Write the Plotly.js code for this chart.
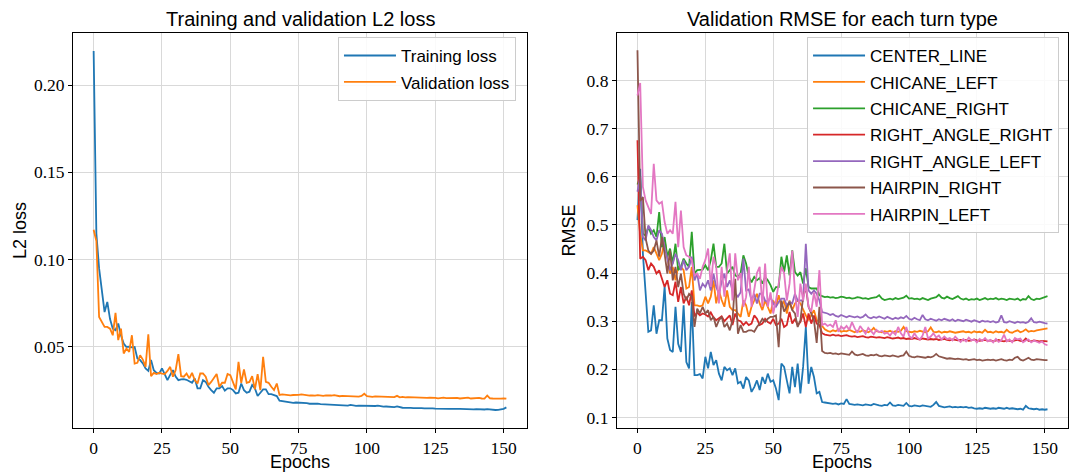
<!DOCTYPE html>
<html>
<head>
<meta charset="utf-8">
<script src="https://cdn.plot.ly/plotly-3.0.1.min.js"></script>
<style>
  html, body { margin: 0; padding: 0; background: #fff; }
  #chart { width: 1069px; height: 472px; }
</style>
</head>
<body>
<div id="chart"></div>
<script>
// Epoch index 0..151
const epochs = Array.from({ length: 152 }, (_, i) => i);

const epochTicks = [0, 25, 50, 75, 100, 125, 150];
const lossTicks = [0.05, 0.10, 0.15, 0.20];
const rmseTicks = [0.1, 0.2, 0.3, 0.4, 0.5, 0.6, 0.7, 0.8];

// L2 loss per epoch
const trainLoss = [
  0.2195, 0.115, 0.095, 0.083, 0.070, 0.0758, 0.066, 0.0605, 0.0596, 0.0634,
  0.0567, 0.052, 0.050, 0.0502, 0.0498, 0.050, 0.0434, 0.0425, 0.0406, 0.0377,
  0.0363, 0.0425, 0.0367, 0.0352, 0.0348, 0.0377, 0.0339, 0.031, 0.034, 0.0367,
  0.033, 0.031, 0.0314, 0.0316, 0.0312, 0.0305, 0.0295, 0.032, 0.0263, 0.0263,
  0.031, 0.030, 0.0272, 0.0253, 0.0238, 0.0263, 0.0263, 0.0276, 0.025, 0.0263,
  0.0263, 0.0253, 0.0234, 0.0238, 0.0291, 0.0253, 0.0238, 0.0244, 0.0282, 0.0263,
  0.0219, 0.0238, 0.0257, 0.0257, 0.023, 0.023, 0.0225, 0.0219, 0.0192, 0.0190,
  0.0186, 0.0183, 0.0181, 0.0180, 0.0182, 0.0181, 0.0183, 0.0182, 0.0178, 0.0175,
  0.0176, 0.0174, 0.0175, 0.0173, 0.0172, 0.0170, 0.0169, 0.0170, 0.0168, 0.0166,
  0.0166, 0.0165, 0.0167, 0.0164, 0.0168, 0.0165, 0.0163, 0.0164, 0.0163, 0.0165,
  0.0163, 0.0161, 0.0160, 0.0162, 0.0164, 0.0159, 0.0158, 0.0159, 0.0157, 0.0158,
  0.0156, 0.0160, 0.0155, 0.0152, 0.0151, 0.0153, 0.0151, 0.0150, 0.0151, 0.0149,
  0.0150, 0.0148, 0.0149, 0.0147, 0.0148, 0.0147, 0.0146, 0.0145, 0.0146, 0.0144,
  0.0145, 0.0146, 0.0144, 0.0145, 0.0146, 0.0145, 0.0143, 0.0145, 0.0144, 0.0143,
  0.0144, 0.0142, 0.0143, 0.0142, 0.0144, 0.0141, 0.0140, 0.0139, 0.0140, 0.0141,
  0.0146, 0.0154
];

const valLoss = [
  0.1171, 0.1107, 0.0672, 0.0644, 0.0615, 0.0615, 0.0605, 0.0567, 0.0695, 0.0539,
  0.0605, 0.0463, 0.0491, 0.0472, 0.0567, 0.0405, 0.0409, 0.0453, 0.0428, 0.0386,
  0.0573, 0.0333, 0.0352, 0.0345, 0.0352, 0.0348, 0.0345, 0.0363, 0.0386, 0.033,
  0.0367, 0.0459, 0.0333, 0.033, 0.0348, 0.032, 0.0352, 0.031, 0.0291, 0.0348,
  0.0348, 0.033, 0.0282, 0.030, 0.0324, 0.0345, 0.0272, 0.0295, 0.0295, 0.0345,
  0.0339, 0.030, 0.0257, 0.0415, 0.0295, 0.0371, 0.0295, 0.030, 0.0333, 0.0257,
  0.0345, 0.0253, 0.0444, 0.030, 0.0295, 0.0272, 0.0253, 0.0291, 0.0225, 0.0228,
  0.0226, 0.0224, 0.0223, 0.0225, 0.0224, 0.0226, 0.0228, 0.0225, 0.0224, 0.0222,
  0.0223, 0.0221, 0.0224, 0.0222, 0.0220, 0.0223, 0.0221, 0.0222, 0.0224, 0.0219,
  0.0218, 0.0220, 0.0219, 0.0221, 0.0218, 0.0217, 0.0219, 0.0216, 0.0220, 0.0232,
  0.0218, 0.0215, 0.0214, 0.0217, 0.0216, 0.0218, 0.0214, 0.0213, 0.0215, 0.0214,
  0.0213, 0.0220, 0.0212, 0.0214, 0.0211, 0.0213, 0.0212, 0.0211, 0.0214, 0.0210,
  0.0211, 0.0209, 0.0208, 0.0210, 0.0207, 0.0208, 0.0206, 0.0209, 0.0210, 0.0207,
  0.0208, 0.0206, 0.0207, 0.0209, 0.0205, 0.0207, 0.0206, 0.0210, 0.0205, 0.0207,
  0.0206, 0.0208, 0.0205, 0.0204, 0.0222, 0.0206, 0.0205, 0.0204, 0.0205, 0.0204,
  0.0206, 0.0204
];

// Validation RMSE per turn type
const centerLine = [
  0.510, 0.617, 0.440, 0.360, 0.278, 0.281, 0.333, 0.274, 0.302, 0.302,
  0.372, 0.264, 0.240, 0.236, 0.330, 0.253, 0.236, 0.333, 0.215, 0.202,
  0.340, 0.188, 0.188, 0.190, 0.181, 0.226, 0.202, 0.236, 0.209, 0.219,
  0.191, 0.177, 0.205, 0.198, 0.202, 0.188, 0.202, 0.171, 0.174, 0.160,
  0.184, 0.177, 0.153, 0.163, 0.177, 0.157, 0.184, 0.170, 0.191, 0.174,
  0.177, 0.160, 0.136, 0.212, 0.205, 0.177, 0.150, 0.205, 0.163, 0.212,
  0.150, 0.205, 0.288, 0.170, 0.205, 0.184, 0.150, 0.153, 0.132, 0.131,
  0.130, 0.129, 0.128, 0.129, 0.127, 0.129, 0.128, 0.138, 0.128, 0.127,
  0.126, 0.127, 0.126, 0.125, 0.127, 0.126, 0.125, 0.128, 0.126, 0.125,
  0.124, 0.126, 0.125, 0.131, 0.125, 0.124, 0.126, 0.125, 0.124, 0.130,
  0.124, 0.123, 0.125, 0.124, 0.123, 0.125, 0.124, 0.123, 0.122, 0.126,
  0.132, 0.124, 0.122, 0.121, 0.122, 0.123, 0.121, 0.122, 0.121, 0.122,
  0.121, 0.122, 0.120, 0.121, 0.119, 0.118, 0.119, 0.118, 0.120, 0.119,
  0.118, 0.119, 0.118, 0.120, 0.119, 0.118, 0.120, 0.118, 0.119, 0.118,
  0.117, 0.118, 0.116, 0.124, 0.119, 0.118, 0.117, 0.118, 0.116, 0.117,
  0.116, 0.117
];

const chicaneLeft = [
  0.541, 0.480, 0.447, 0.447, 0.444, 0.440, 0.454, 0.440, 0.427, 0.440,
  0.468, 0.434, 0.399, 0.413, 0.385, 0.413, 0.413, 0.406, 0.368, 0.371,
  0.413, 0.333, 0.333, 0.331, 0.333, 0.351, 0.337, 0.351, 0.385, 0.337,
  0.364, 0.344, 0.330, 0.364, 0.330, 0.323, 0.323, 0.316, 0.309, 0.343,
  0.333, 0.309, 0.330, 0.343, 0.357, 0.337, 0.323, 0.343, 0.330, 0.316,
  0.343, 0.330, 0.354, 0.330, 0.343, 0.316, 0.343, 0.323, 0.337, 0.343,
  0.337, 0.323, 0.312, 0.302, 0.312, 0.323, 0.302, 0.299, 0.290, 0.283,
  0.280, 0.278, 0.281, 0.279, 0.283, 0.278, 0.280, 0.279, 0.282, 0.279,
  0.277, 0.280, 0.278, 0.281, 0.279, 0.277, 0.280, 0.286, 0.279, 0.278,
  0.277, 0.279, 0.278, 0.280, 0.277, 0.279, 0.278, 0.280, 0.288, 0.279,
  0.278, 0.277, 0.279, 0.278, 0.280, 0.278, 0.277, 0.279, 0.287, 0.278,
  0.277, 0.279, 0.276, 0.278, 0.277, 0.279, 0.278, 0.276, 0.277, 0.278,
  0.279, 0.277, 0.278, 0.276, 0.279, 0.277, 0.278, 0.276, 0.282, 0.277,
  0.278, 0.276, 0.279, 0.277, 0.278, 0.276, 0.282, 0.277, 0.276, 0.279,
  0.281, 0.277, 0.279, 0.283, 0.278, 0.280, 0.279, 0.281, 0.282, 0.283,
  0.284, 0.285
];

const chicaneRight = [
  0.584, 0.600, 0.482, 0.478, 0.496, 0.482, 0.489, 0.475, 0.527, 0.454,
  0.475, 0.434, 0.451, 0.420, 0.461, 0.406, 0.413, 0.430, 0.420, 0.413,
  0.486, 0.399, 0.406, 0.406, 0.407, 0.416, 0.406, 0.427, 0.461, 0.413,
  0.413, 0.420, 0.461, 0.399, 0.406, 0.413, 0.395, 0.392, 0.400, 0.437,
  0.420, 0.392, 0.381, 0.392, 0.385, 0.390, 0.378, 0.392, 0.385, 0.375,
  0.361, 0.371, 0.371, 0.434, 0.402, 0.437, 0.395, 0.447, 0.402, 0.395,
  0.402, 0.378, 0.410, 0.371, 0.368, 0.368, 0.368, 0.354, 0.352, 0.350,
  0.351, 0.349, 0.350, 0.348, 0.349, 0.351, 0.350, 0.348, 0.349, 0.347,
  0.348, 0.350, 0.349, 0.347, 0.348, 0.346, 0.348, 0.349, 0.350, 0.354,
  0.347, 0.344, 0.346, 0.347, 0.345, 0.348, 0.346, 0.347, 0.349, 0.353,
  0.347, 0.348, 0.346, 0.347, 0.345, 0.348, 0.346, 0.344, 0.347, 0.348,
  0.350, 0.355, 0.349, 0.347, 0.351, 0.348, 0.346, 0.349, 0.352, 0.347,
  0.345, 0.347, 0.344, 0.346, 0.345, 0.347, 0.344, 0.346, 0.348, 0.345,
  0.347, 0.346, 0.348, 0.345, 0.347, 0.346, 0.344, 0.347, 0.346, 0.345,
  0.347, 0.343, 0.346, 0.345, 0.352, 0.346, 0.344, 0.347, 0.346, 0.348,
  0.349, 0.352
];

const rightAngleRight = [
  0.676, 0.430, 0.434, 0.427, 0.406, 0.420, 0.413, 0.399, 0.406, 0.388,
  0.371, 0.385, 0.357, 0.354, 0.382, 0.340, 0.371, 0.337, 0.351, 0.333,
  0.364, 0.310, 0.318, 0.312, 0.316, 0.314, 0.310, 0.318, 0.308, 0.302,
  0.306, 0.310, 0.300, 0.306, 0.312, 0.292, 0.316, 0.302, 0.300, 0.292,
  0.298, 0.292, 0.295, 0.312, 0.305, 0.292, 0.295, 0.305, 0.298, 0.295,
  0.305, 0.292, 0.295, 0.305, 0.288, 0.292, 0.319, 0.295, 0.305, 0.292,
  0.298, 0.316, 0.288, 0.316, 0.295, 0.312, 0.295, 0.292, 0.275, 0.272,
  0.271, 0.270, 0.272, 0.270, 0.271, 0.269, 0.270, 0.271, 0.269, 0.268,
  0.269, 0.267, 0.268, 0.269, 0.267, 0.266, 0.268, 0.267, 0.266, 0.267,
  0.266, 0.265, 0.267, 0.266, 0.264, 0.265, 0.266, 0.264, 0.265, 0.263,
  0.264, 0.263, 0.265, 0.263, 0.262, 0.264, 0.263, 0.262, 0.263, 0.262,
  0.263, 0.261, 0.262, 0.263, 0.261, 0.260, 0.262, 0.261, 0.260, 0.261,
  0.260, 0.261, 0.259, 0.260, 0.262, 0.260, 0.259, 0.260, 0.261, 0.259,
  0.260, 0.258, 0.259, 0.261, 0.259, 0.258, 0.260, 0.259, 0.258, 0.260,
  0.261, 0.259, 0.258, 0.264, 0.259, 0.258, 0.260, 0.259, 0.258, 0.259,
  0.258, 0.258
];

const rightAngleLeft = [
  0.569, 0.600, 0.475, 0.468, 0.499, 0.489, 0.475, 0.468, 0.489, 0.482,
  0.454, 0.427, 0.406, 0.420, 0.440, 0.427, 0.406, 0.427, 0.406, 0.413,
  0.434, 0.385, 0.399, 0.364, 0.378, 0.371, 0.385, 0.364, 0.399, 0.371,
  0.357, 0.382, 0.399, 0.371, 0.385, 0.364, 0.357, 0.351, 0.360, 0.430,
  0.364, 0.366, 0.343, 0.357, 0.337, 0.357, 0.357, 0.343, 0.340, 0.350,
  0.337, 0.330, 0.340, 0.347, 0.347, 0.333, 0.340, 0.337, 0.357, 0.343,
  0.343, 0.343, 0.461, 0.364, 0.357, 0.364, 0.357, 0.343, 0.319, 0.318,
  0.316, 0.313, 0.315, 0.311, 0.309, 0.313, 0.310, 0.308, 0.311, 0.309,
  0.308, 0.310, 0.307, 0.309, 0.314, 0.308, 0.306, 0.309, 0.307, 0.310,
  0.308, 0.305, 0.309, 0.306, 0.304, 0.307, 0.305, 0.308, 0.306, 0.311,
  0.305, 0.303, 0.307, 0.304, 0.302, 0.313, 0.304, 0.302, 0.305, 0.303,
  0.301, 0.304, 0.302, 0.305, 0.303, 0.301, 0.304, 0.300, 0.303, 0.301,
  0.300, 0.303, 0.301, 0.299, 0.302, 0.300, 0.298, 0.301, 0.299, 0.300,
  0.298, 0.300, 0.297, 0.299, 0.312, 0.298, 0.297, 0.300, 0.298, 0.296,
  0.299, 0.297, 0.298, 0.296, 0.299, 0.306, 0.298, 0.297, 0.299, 0.297,
  0.296, 0.295
];

const hairpinRight = [
  0.863, 0.550, 0.558, 0.472, 0.447, 0.440, 0.447, 0.468, 0.434, 0.475,
  0.440, 0.399, 0.447, 0.385, 0.413, 0.371, 0.399, 0.357, 0.344, 0.357,
  0.351, 0.288, 0.326, 0.316, 0.330, 0.316, 0.323, 0.302, 0.309, 0.288,
  0.302, 0.309, 0.288, 0.295, 0.281, 0.302, 0.388, 0.274, 0.292, 0.278,
  0.278, 0.281, 0.281, 0.278, 0.288, 0.295, 0.305, 0.299, 0.305, 0.309,
  0.309, 0.312, 0.246, 0.343, 0.320, 0.330, 0.340, 0.323, 0.316, 0.288,
  0.302, 0.350, 0.371, 0.330, 0.316, 0.302, 0.255, 0.330, 0.238, 0.234,
  0.233, 0.234, 0.232, 0.233, 0.231, 0.233, 0.232, 0.231, 0.230, 0.237,
  0.231, 0.229, 0.230, 0.232, 0.229, 0.228, 0.230, 0.229, 0.231, 0.228,
  0.227, 0.229, 0.228, 0.227, 0.229, 0.227, 0.226, 0.228, 0.229, 0.237,
  0.228, 0.226, 0.225, 0.227, 0.226, 0.225, 0.224, 0.226, 0.225, 0.227,
  0.232, 0.227, 0.225, 0.224, 0.222, 0.223, 0.222, 0.221, 0.222, 0.221,
  0.220, 0.221, 0.219, 0.220, 0.221, 0.219, 0.220, 0.218, 0.219, 0.220,
  0.219, 0.220, 0.218, 0.219, 0.221, 0.219, 0.218, 0.220, 0.219, 0.224,
  0.226, 0.220, 0.218, 0.221, 0.224, 0.220, 0.219, 0.221, 0.220, 0.219,
  0.219, 0.219
];

const hairpinLeft = [
  0.769, 0.795, 0.579, 0.551, 0.537, 0.523, 0.627, 0.551, 0.544, 0.548,
  0.506, 0.482, 0.489, 0.482, 0.548, 0.454, 0.530, 0.454, 0.437, 0.434,
  0.427, 0.395, 0.399, 0.388, 0.413, 0.427, 0.451, 0.371, 0.434, 0.413,
  0.337, 0.413, 0.351, 0.406, 0.441, 0.343, 0.441, 0.385, 0.400, 0.330,
  0.350, 0.413, 0.330, 0.370, 0.400, 0.413, 0.330, 0.420, 0.330, 0.360,
  0.316, 0.343, 0.378, 0.413, 0.400, 0.343, 0.378, 0.447, 0.360, 0.309,
  0.378, 0.343, 0.378, 0.330, 0.320, 0.360, 0.330, 0.406, 0.292, 0.295,
  0.290, 0.293, 0.288, 0.302, 0.278, 0.289, 0.284, 0.290, 0.282, 0.298,
  0.285, 0.276, 0.290, 0.283, 0.274, 0.286, 0.279, 0.273, 0.282, 0.277,
  0.280, 0.274, 0.276, 0.270, 0.278, 0.272, 0.288, 0.275, 0.268, 0.288,
  0.270, 0.264, 0.275, 0.266, 0.262, 0.270, 0.288, 0.264, 0.268, 0.275,
  0.266, 0.270, 0.262, 0.268, 0.263, 0.265, 0.260, 0.268, 0.262, 0.257,
  0.263, 0.258, 0.266, 0.260, 0.262, 0.256, 0.263, 0.259, 0.265, 0.258,
  0.261, 0.256, 0.263, 0.257, 0.260, 0.272, 0.258, 0.262, 0.256, 0.265,
  0.262, 0.264, 0.256, 0.260, 0.262, 0.256, 0.260, 0.258, 0.255, 0.258,
  0.252, 0.250
];

const sans = '"Liberation Sans", Arial, sans-serif';
const serif = '"Liberation Serif", "Times New Roman", serif';

const lossSeries = [
  { name: 'Training loss', y: trainLoss, color: '#1f77b4' },
  { name: 'Validation loss', y: valLoss, color: '#ff7f0e' }
];

const rmseSeries = [
  { name: 'CENTER_LINE', y: centerLine, color: '#1f77b4' },
  { name: 'CHICANE_LEFT', y: chicaneLeft, color: '#ff7f0e' },
  { name: 'CHICANE_RIGHT', y: chicaneRight, color: '#2ca02c' },
  { name: 'RIGHT_ANGLE_RIGHT', y: rightAngleRight, color: '#d62728' },
  { name: 'RIGHT_ANGLE_LEFT', y: rightAngleLeft, color: '#9467bd' },
  { name: 'HAIRPIN_RIGHT', y: hairpinRight, color: '#8c564b' },
  { name: 'HAIRPIN_LEFT', y: hairpinLeft, color: '#e377c2' }
];

const traces = [];
lossSeries.forEach(s => traces.push({
  type: 'scatter', mode: 'lines', x: epochs, y: s.y, name: s.name,
  legendgroup: s.name,
  line: { color: s.color, width: 1.8 }, xaxis: 'x', yaxis: 'y', legend: 'legend'
}));
rmseSeries.forEach(s => traces.push({
  type: 'scatter', mode: 'lines', x: epochs, y: s.y, name: s.name,
  legendgroup: s.name,
  line: { color: s.color, width: 1.8 }, xaxis: 'x2', yaxis: 'y2', legend: 'legend2'
}));

const axisBase = {
  showline: true, linecolor: '#000', linewidth: 1, mirror: true,
  ticks: 'outside', ticklen: 4, tickwidth: 1, tickcolor: '#000',
  showgrid: true, gridcolor: '#d9d9d9', gridwidth: 1, zeroline: false,
  tickfont: { family: serif, size: 17.5, color: '#000' },
  automargin: false
};

const legendBase = {
  xanchor: 'right', yanchor: 'top',
  bgcolor: 'rgba(255,255,255,0.85)', bordercolor: '#cccccc', borderwidth: 1,
  font: { family: sans, size: 17, color: '#000' },
  itemwidth: 52, tracegroupgap: 1.3
};

const titleFont = { family: sans, size: 20, color: '#000' };
const labelFont = { family: sans, size: 18, color: '#000' };

// Subplot titles and x-axis labels placed against each axis box
function boxLabel(text, xr, yr, y, anchor, shift, font) {
  return {
    text: text, showarrow: false, xref: xr, yref: yr, x: 0.5, y: y,
    xanchor: 'center', yanchor: anchor, yshift: shift, font: font, borderpad: 0
  };
}

const layout = {
  width: 1069, height: 472,
  margin: { l: 73, r: 1, t: 33, b: 44 },
  paper_bgcolor: '#fff', plot_bgcolor: '#fff',
  showlegend: true,
  xaxis: Object.assign({}, axisBase, {
    domain: [0, 0.4563], range: [-7.55, 158.55], anchor: 'y',
    tickvals: epochTicks
  }),
  yaxis: Object.assign({}, axisBase, {
    domain: [0, 1], range: [0.0036, 0.2298], anchor: 'x',
    tickvals: lossTicks, tickformat: '.2f',
    title: { text: 'L2 loss', font: labelFont, standoff: 2 }
  }),
  xaxis2: Object.assign({}, axisBase, {
    domain: [0.5467, 1], range: [-7.55, 158.55], anchor: 'y2',
    tickvals: epochTicks
  }),
  yaxis2: Object.assign({}, axisBase, {
    domain: [0, 1], range: [0.078, 0.899], anchor: 'x2',
    tickvals: rmseTicks, tickformat: '.1f',
    title: { text: 'RMSE', font: labelFont, standoff: 6 }
  }),
  legend: Object.assign({}, legendBase, { x: 0.4452, y: 0.99 }),
  legend2: Object.assign({}, legendBase, { x: 0.991, y: 0.99 }),
  annotations: [
    boxLabel('Training and validation L2 loss', 'x domain', 'y domain', 1, 'bottom', 2, titleFont),
    boxLabel('Validation RMSE for each turn type', 'x2 domain', 'y2 domain', 1, 'bottom', 2, titleFont),
    boxLabel('Epochs', 'x domain', 'y domain', 0, 'top', -23, labelFont),
    boxLabel('Epochs', 'x2 domain', 'y2 domain', 0, 'top', -23, labelFont)
  ]
};

Plotly.newPlot('chart', traces, layout, { staticPlot: true, displayModeBar: false });
</script>
</body>
</html>
